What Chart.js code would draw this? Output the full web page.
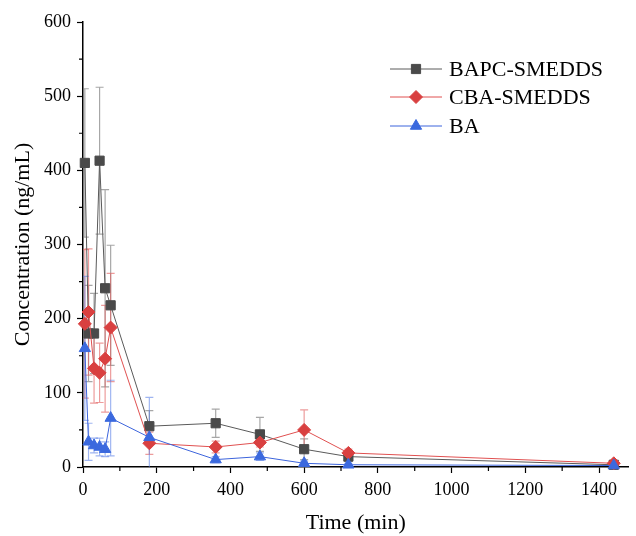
<!DOCTYPE html>
<html>
<head>
<meta charset="utf-8">
<script src="https://cdn.jsdelivr.net/npm/chart.js@4.4.0/dist/chart.umd.min.js"></script>
<style>
html, body { margin: 0; padding: 0; background: #fff; }
</style>
</head>
<body>
<canvas id="myChart" width="636" height="536"></canvas>
<script>
// sampling times (min)
var times = [5, 15, 30, 45, 60, 75, 180, 360, 480, 600, 720, 1440];

// mean concentrations (ng/mL) and their SD
var bapc   = [410, 180, 180, 413, 241, 218, 55, 59, 44, 24, 14, 3];
var bapcSd = [100, 65, 54, 99, 133, 81, 21, 19, 23, 14, 6, 2];
var cba    = [193, 209, 133, 127, 146, 188, 32, 27, 33, 50, 19, 5];
var cbaSd  = [100, 85, 47, 40, 72, 73, 15, 8, 6, 27, 5, 2];
var ba     = [160, 34, 29, 27, 24, 66, 40, 10, 14, 5, 3, 2];
var baSd   = [97, 25, 10, 12, 10, 51, 54, 4, 5, 3, 2, 1];

var xTicks = [0, 200, 400, 600, 800, 1000, 1200, 1400];
var yTicks = [0, 100, 200, 300, 400, 500, 600];

var serif = '"Liberation Serif", "Times New Roman", serif';

function pts(vals) {
    return vals.map(function (v, i) { return { x: times[i], y: v }; });
}

// error bars, drawn under the markers
var errorBars = {
    id: 'errorBars',
    beforeDatasetsDraw: function (chart) {
        var c = chart.ctx, xs = chart.scales.x, ys = chart.scales.y;
        var area = chart.chartArea;
        c.save();
        c.beginPath();
        c.rect(area.left, area.top - 5, area.right - area.left, area.bottom - area.top + 5);
        c.clip();
        chart.data.datasets.forEach(function (ds) {
            c.strokeStyle = ds.errColor;
            c.lineWidth = 1.2;
            ds.data.forEach(function (p, j) {
                var x = xs.getPixelForValue(p.x);
                var hi = ys.getPixelForValue(p.y + ds.err[j]);
                var lo = ys.getPixelForValue(p.y - ds.err[j]);
                c.beginPath();
                c.moveTo(x, hi); c.lineTo(x, lo);
                c.moveTo(x - 4, hi); c.lineTo(x + 4, hi);
                c.moveTo(x - 4, lo); c.lineTo(x + 4, lo);
                c.stroke();
            });
        });
        c.restore();
    }
};

// minor ticks (shorter) on both axes
var minorTicks = {
    id: 'minorTicks',
    afterDraw: function (chart) {
        var c = chart.ctx, xs = chart.scales.x, ys = chart.scales.y;
        var area = chart.chartArea;
        c.save();
        c.strokeStyle = '#000';
        c.lineWidth = 1.2;
        c.beginPath();
        for (var v = 100; v < 1480; v += 200) {
            var x = xs.getPixelForValue(v);
            c.moveTo(x, area.bottom); c.lineTo(x, area.bottom + 4);
        }
        for (var w = 50; w < 600; w += 100) {
            var y = ys.getPixelForValue(w);
            c.moveTo(area.left, y); c.lineTo(area.left - 4, y);
        }
        c.stroke();
        c.restore();
    }
};

// legend in Origin style: line + marker + label
var originLegend = {
    id: 'originLegend',
    afterDraw: function (chart) {
        var c = chart.ctx;
        var rowY = [69, 97, 126];
        chart.data.datasets.forEach(function (ds, i) {
            var y = rowY[i];
            c.save();
            c.strokeStyle = ds.borderColor;
            c.lineWidth = 1;
            c.beginPath();
            c.moveTo(390, y); c.lineTo(442, y);
            c.stroke();
            c.fillStyle = ds.pointBackgroundColor;
            c.strokeStyle = ds.pointBorderColor;
            c.lineWidth = 1;
            Chart.helpers.drawPoint(c, { pointStyle: ds.pointStyle, radius: ds.pointRadius, rotation: 0, borderWidth: 1 }, 416, y);
            c.fillStyle = '#000';
            c.font = '22px ' + serif;
            c.textBaseline = 'middle';
            c.fillText(ds.label, 449, y + 1);
            c.restore();
        });
    }
};

function plain(v) { return String(v); }

var ctx = document.getElementById('myChart').getContext('2d');
var chart = new Chart(ctx, {
    type: 'line',
    data: {
        datasets: [{
            label: 'BAPC-SMEDDS',
            data: pts(bapc),
            err: bapcSd,
            errColor: 'rgba(120,120,120,0.65)',
            borderColor: '#5a5a5a',
            borderWidth: 1,
            pointStyle: 'rect',
            pointRadius: 6.5,
            pointBackgroundColor: '#4a4a4a',
            pointBorderColor: '#4a4a4a',
            order: 3
        }, {
            label: 'CBA-SMEDDS',
            data: pts(cba),
            err: cbaSd,
            errColor: 'rgba(225,90,90,0.6)',
            borderColor: '#e05050',
            borderWidth: 1,
            pointStyle: 'rectRot',
            pointRadius: 6.5,
            pointBackgroundColor: '#d94040',
            pointBorderColor: '#d94040',
            order: 2
        }, {
            label: 'BA',
            data: pts(ba),
            err: baSd,
            errColor: 'rgba(80,120,230,0.55)',
            borderColor: '#3c64dc',
            borderWidth: 1,
            pointStyle: 'triangle',
            pointRadius: 6.5,
            pointBackgroundColor: '#3b69de',
            pointBorderColor: '#3b69de',
            order: 1
        }]
    },
    options: {
        responsive: false,
        animation: false,
        devicePixelRatio: 1,
        layout: { padding: { top: 22, right: 0, left: 0, bottom: 0 } },
        elements: { line: { tension: 0 } },
        datasets: { line: { clip: false } },
        plugins: { legend: { display: false }, tooltip: { enabled: false } },
        scales: {
            x: {
                type: 'linear',
                min: 0,
                max: 1480,
                afterFit: function (s) { s.height = 69; },
                afterBuildTicks: function (s) { s.ticks = xTicks.map(function (v) { return { value: v }; }); },
                border: { display: true, color: '#000', width: 1.5 },
                grid: { drawOnChartArea: false, drawTicks: true, tickLength: 6, tickColor: '#000', tickWidth: 1.2 },
                ticks: { color: '#000', font: { family: serif, size: 18 }, padding: 6, maxRotation: 0, autoSkip: false, callback: plain },
                title: { display: true, text: 'Time (min)', color: '#000', font: { family: serif, size: 22 }, padding: { top: 0, bottom: 0 } }
            },
            y: {
                min: 0,
                max: 600,
                afterFit: function (s) { s.width = 83; },
                afterBuildTicks: function (s) { s.ticks = yTicks.map(function (v) { return { value: v }; }); },
                border: { display: true, color: '#000', width: 1.5 },
                grid: { drawOnChartArea: false, drawTicks: true, tickLength: 6, tickColor: '#000', tickWidth: 1.2 },
                ticks: { color: '#000', font: { family: serif, size: 18 }, padding: 6, callback: plain },
                title: { display: true, text: 'Concentration (ng/mL)', color: '#000', font: { family: serif, size: 22 }, padding: { top: 10, bottom: 0 } }
            }
        }
    },
    plugins: [errorBars, minorTicks, originLegend]
});
</script>
</body>
</html>
